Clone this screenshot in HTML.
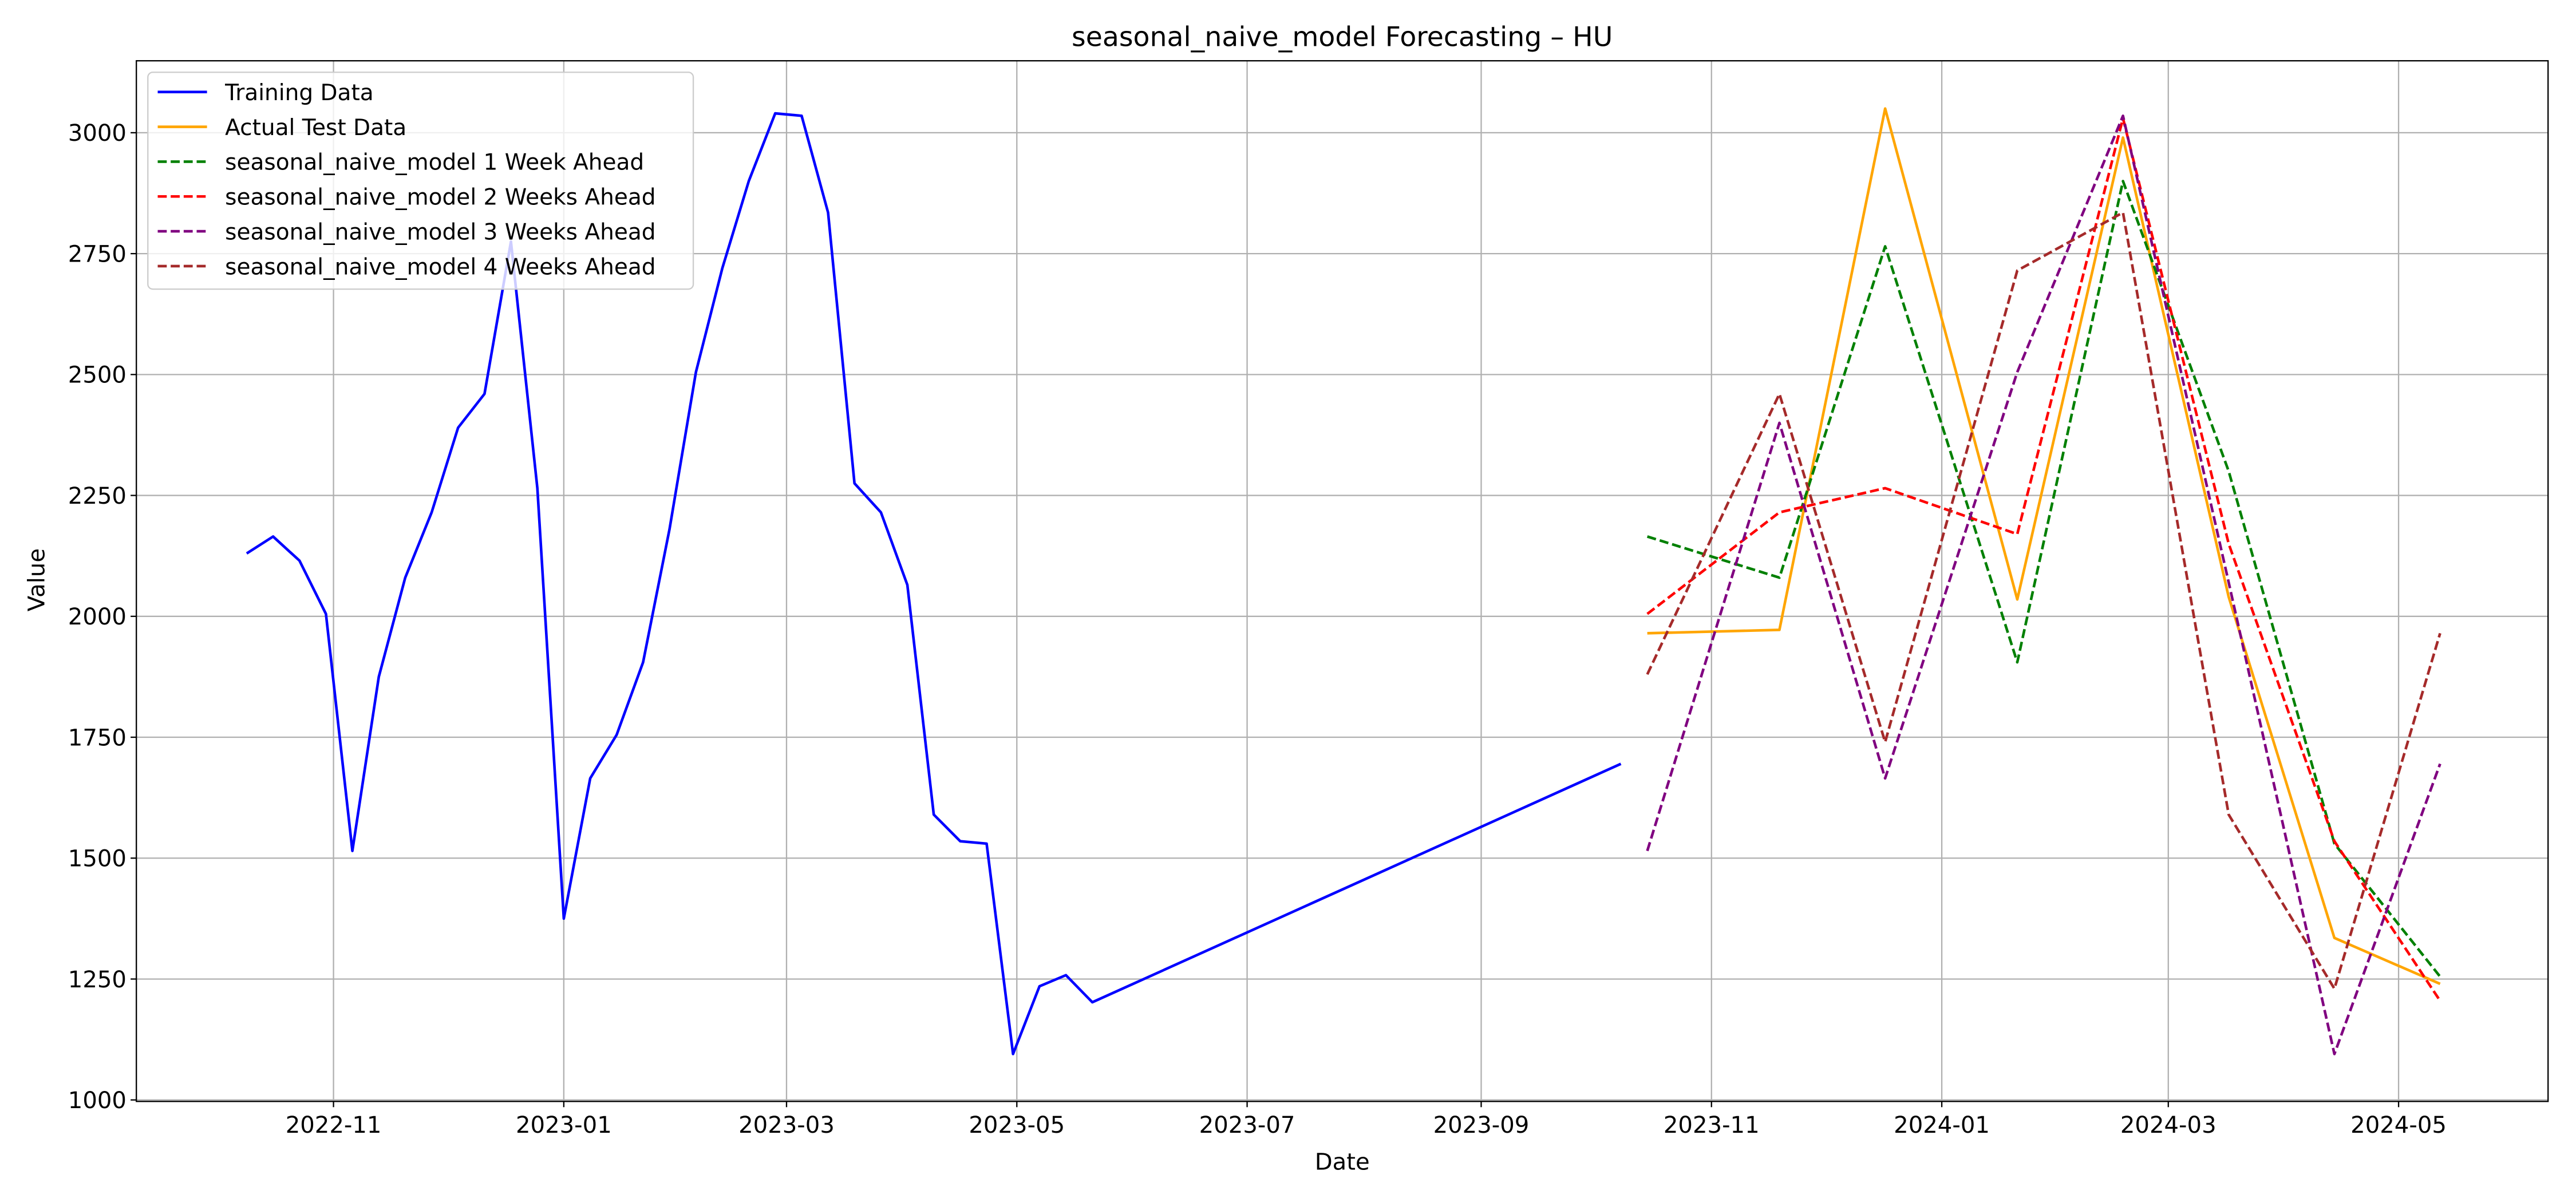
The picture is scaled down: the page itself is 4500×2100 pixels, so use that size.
<!DOCTYPE html>
<html><head><meta charset="utf-8"><style>
html,body{margin:0;padding:0;background:#fff;}
svg{display:block;}
text{font-family:"DejaVu Sans","Liberation Sans",sans-serif;fill:#000;}
</style></head><body>
<svg id="chart" width="4500" height="2100" viewBox="0 0 1568 731.73" xmlns="http://www.w3.org/2000/svg">
<rect width="1568" height="731.73" fill="#fff"/>
<g id="grid"></g>
<g id="series"></g>
<g id="axes"></g>
<text x="817" y="28" font-size="16.5" text-anchor="middle">seasonal_naive_model Forecasting – HU</text>
<text x="817" y="712" font-size="14" text-anchor="middle">Date</text>
<text x="0" y="0" font-size="14" text-anchor="middle" transform="translate(27,353) rotate(-90)">Value</text>
<g id="legend"></g>
</svg>
<script>
const trainStart = "2022-10-09";
const trainValues = [2130,2165,2115,2005,1515,1875,2080,2215,2390,2460,2775,2265,1375,1665,1755,1905,2180,2505,2720,2900,3040,3035,2835,2275,2215,2065,1590,1535,1530,1095,1235,1258,1202];
const trainLastDate = "2023-10-08";
const trainLastValue = 1695;
const testDates = ["2023-10-15","2023-11-19","2023-12-17","2024-01-21","2024-02-18","2024-03-17","2024-04-14","2024-05-12"];
const actualValues = [1965,1972,3050,2035,2990,2040,1335,1240];
const week1Values = [2165,2080,2765,1905,2900,2300,1530,1255];
const week2Values = [2005,2215,2265,2170,3030,2150,1535,1205];
const week3Values = [1515,2400,1665,2505,3035,2070,1095,1695];
const week4Values = [1880,2460,1740,2715,2835,1590,1230,1965];
const yTicks = [1000,1250,1500,1750,2000,2250,2500,2750,3000];
const xTickLabels = ["2022-11","2023-01","2023-03","2023-05","2023-07","2023-09","2023-11","2024-01","2024-03","2024-05"];

const L=83,R=1551,T=37,B=670.5;
const d0=Date.UTC(2022,10,1);
function days(s){const p=s.split("-").map(Number);return (Date.UTC(p[0],p[1]-1,p[2]||1)-d0)/86400000;}
function xs(s){return 203+days(s)*2.298;}
function ys(v){return 669.6-(v-1000)*0.2944;}
const NS="http://www.w3.org/2000/svg";
function mk(tag,attrs,parent){const e=document.createElementNS(NS,tag);for(const k in attrs)e.setAttribute(k,attrs[k]);parent.appendChild(e);return e;}
const grid=document.getElementById('grid'),axes=document.getElementById('axes'),series=document.getElementById('series'),legend=document.getElementById('legend');

yTicks.forEach(v=>{
  const y=ys(v);
  const g=mk('line',{x1:L,x2:R,y1:y,y2:y,stroke:'#b0b0b0','stroke-width':0.8},grid);
  
  
  mk('line',{x1:L-3.5,x2:L,y1:y,y2:y,stroke:'#000','stroke-width':0.8},axes);
  const t=mk('text',{x:L-6,y:y+5,'font-size':14,'text-anchor':'end'},axes);
  t.textContent=v;
  
  
});
xTickLabels.forEach(s=>{
  const x=xs(s);
  const g=mk('line',{x1:x,x2:x,y1:T,y2:B,stroke:'#b0b0b0','stroke-width':0.8},grid);
  
  
  mk('line',{x1:x,x2:x,y1:B,y2:B+3.5,stroke:'#000','stroke-width':0.8},axes);
  const t=mk('text',{x:x,y:B+19,'font-size':14,'text-anchor':'middle'},axes);
  t.textContent=s;
  
  
});
const frame=mk('rect',{x:L,y:T,width:R-L,height:B-T,fill:'none',stroke:'#000','stroke-width':0.8},axes);



function poly(pts,color,dash,name){
  const p=mk('polyline',{points:pts.map(q=>q[0].toFixed(2)+','+q[1].toFixed(2)).join(' '),fill:'none',stroke:color,'stroke-width':1.6,'stroke-linejoin':'round'},series);
  if(dash)p.setAttribute('stroke-dasharray','5.5,2.4');
  
  
}
const startDays=days(trainStart);
const trainPts=trainValues.map((v,i)=>[203+(startDays+7*i)*2.298,ys(v)]);
trainPts.push([xs(trainLastDate),ys(trainLastValue)]);
poly(trainPts,'#0000ff',false,'training-data-line');
const tp=arr=>arr.map((v,i)=>[xs(testDates[i]),ys(v)]);
poly(tp(actualValues),'#ffa500',false,'actual-test-line');
poly(tp(week1Values),'#008000',true,'forecast-1-week-line');
poly(tp(week2Values),'#ff0000',true,'forecast-2-weeks-line');
poly(tp(week3Values),'#800080',true,'forecast-3-weeks-line');
poly(tp(week4Values),'#a52a2a',true,'forecast-4-weeks-line');

const box=mk('rect',{x:90,y:44,width:332,height:132,rx:3,fill:'#fff','fill-opacity':0.8,stroke:'#cccccc','stroke-width':0.8},legend);


const entries=[["Training Data","#0000ff",false],["Actual Test Data","#ffa500",false],["seasonal_naive_model 1 Week Ahead","#008000",true],["seasonal_naive_model 2 Weeks Ahead","#ff0000",true],["seasonal_naive_model 3 Weeks Ahead","#800080",true],["seasonal_naive_model 4 Weeks Ahead","#a52a2a",true]];
entries.forEach((e,i)=>{
  const y=56+i*21.2;
  const g=mk('g',{},legend);
  
  
  const ln=mk('line',{x1:96,x2:126,y1:y,y2:y,stroke:e[1],'stroke-width':1.6},g);
  if(e[2])ln.setAttribute('stroke-dasharray','5.5,2.4');
  const t=mk('text',{x:137,y:y+5,'font-size':13.6},g);
  t.textContent=e[0];
});
</script>
</body></html>
